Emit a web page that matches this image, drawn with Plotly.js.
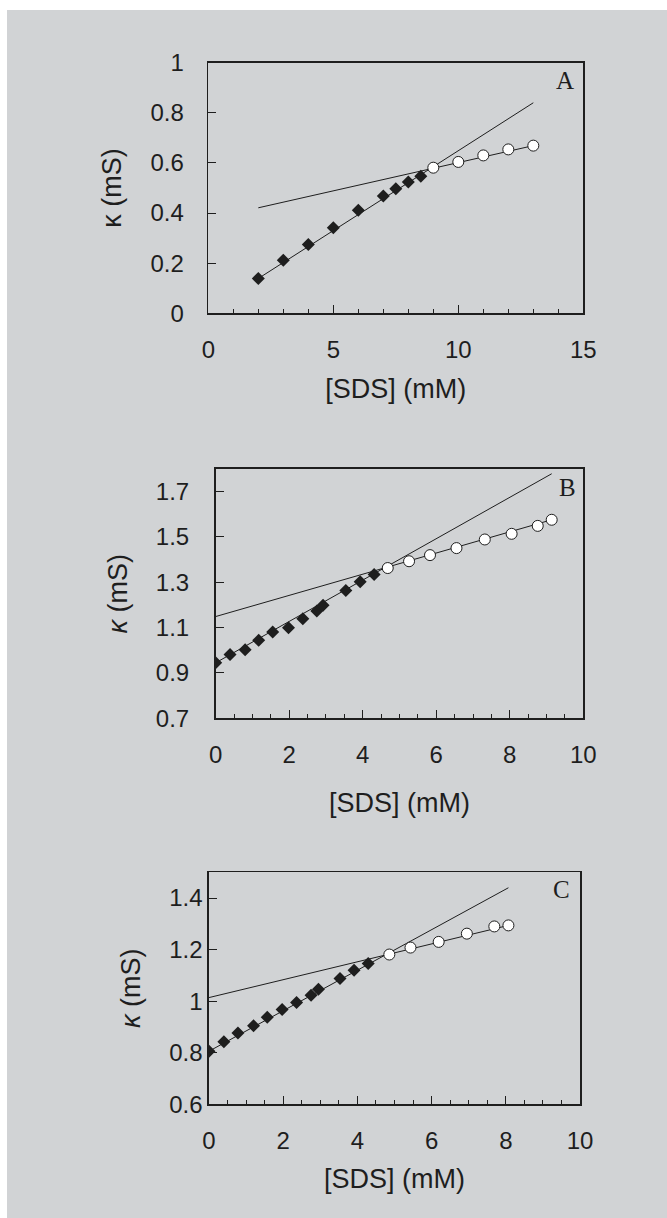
<!DOCTYPE html>
<html>
<head>
<meta charset="utf-8">
<script src="https://cdn.plot.ly/plotly-3.0.1.min.js"></script>
<style>
html,body{margin:0;padding:0;background:#ffffff;}
#plot{position:absolute;left:7px;top:10px;width:660px;height:1208px;}
</style>
</head>
<body>
<div id="plot"></div>
<script>
// Panel A
const aPreX = [2, 3, 4, 5, 6, 7, 7.5, 8, 8.5];
const aPreY = [0.139, 0.212, 0.275, 0.341, 0.411, 0.468, 0.497, 0.524, 0.547];
const aPostX = [9, 10, 11, 12, 13];
const aPostY = [0.581, 0.604, 0.630, 0.654, 0.669];
const aFitPreX = [2, 13];
const aFitPreY = [0.139, 0.840];
const aFitPostX = [2, 13];
const aFitPostY = [0.421, 0.669];

// Panel B
const bPreX = [0, 0.39, 0.80, 1.17, 1.55, 1.98, 2.37, 2.75, 2.92, 3.54, 3.93, 4.31];
const bPreY = [0.945, 0.981, 1.003, 1.044, 1.081, 1.100, 1.139, 1.173, 1.199, 1.264, 1.303, 1.334];
const bPostX = [4.68, 5.26, 5.83, 6.55, 7.32, 8.05, 8.76, 9.14];
const bPostY = [1.363, 1.393, 1.420, 1.451, 1.489, 1.514, 1.549, 1.576];
const bFitPreX = [0, 9.14];
const bFitPreY = [0.945, 1.779];
const bFitPostX = [0, 9.14];
const bFitPostY = [1.149, 1.576];

// Panel C
const cPreX = [0, 0.40, 0.78, 1.20, 1.57, 1.97, 2.36, 2.75, 2.95, 3.53, 3.91, 4.29];
const cPreY = [0.806, 0.843, 0.877, 0.905, 0.938, 0.968, 0.995, 1.023, 1.046, 1.088, 1.120, 1.146];
const cPostX = [4.86, 5.43, 6.19, 6.95, 7.69, 8.07];
const cPostY = [1.181, 1.208, 1.230, 1.262, 1.290, 1.294];
const cFitPreX = [0, 8.07];
const cFitPreY = [0.806, 1.440];
const cFitPostX = [0, 8.07];
const cFitPostY = [1.014, 1.294];

const panelLetters = ['A', 'B', 'C'];
const xTitle = '[SDS] (mM)';
const yTitles = ['κ (mS)', '<i>κ</i> (mS)', '<i>κ</i> (mS)'];

const ink = '#1e1e1e';
const fontFam = 'Liberation Sans, Arial, sans-serif';
const serifFam = 'Liberation Serif, Times New Roman, serif';

function fitTrace(x, y, xa, ya) {
  return {x: x, y: y, xaxis: xa, yaxis: ya, mode: 'lines',
    line: {color: ink, width: 1}, showlegend: false, hoverinfo: 'skip'};
}
function preTrace(x, y, xa, ya) {
  return {x: x, y: y, xaxis: xa, yaxis: ya, mode: 'markers',
    marker: {symbol: 'diamond', size: 10, color: ink, line: {width: 0}}, showlegend: false};
}
function postTrace(x, y, xa, ya) {
  return {x: x, y: y, xaxis: xa, yaxis: ya, mode: 'markers',
    marker: {symbol: 'circle', size: 11, color: '#ffffff', line: {color: ink, width: 1}}, showlegend: false};
}

const traces = [
  fitTrace(aFitPreX, aFitPreY, 'x', 'y'), fitTrace(aFitPostX, aFitPostY, 'x', 'y'),
  preTrace(aPreX, aPreY, 'x', 'y'), postTrace(aPostX, aPostY, 'x', 'y'),
  fitTrace(bFitPreX, bFitPreY, 'x2', 'y2'), fitTrace(bFitPostX, bFitPostY, 'x2', 'y2'),
  preTrace(bPreX, bPreY, 'x2', 'y2'), postTrace(bPostX, bPostY, 'x2', 'y2'),
  fitTrace(cFitPreX, cFitPreY, 'x3', 'y3'), fitTrace(cFitPostX, cFitPostY, 'x3', 'y3'),
  preTrace(cPreX, cPreY, 'x3', 'y3'), postTrace(cPostX, cPostY, 'x3', 'y3')
];

function xAxis(domain, range, dtick, minorD, anchor, standoff) {
  return {domain: domain, range: range, anchor: anchor, dtick: dtick, tick0: 0,
    showline: true, mirror: true, linecolor: ink, linewidth: 1.7,
    ticks: 'inside', ticklen: 8, tickwidth: 1, tickcolor: ink,
    minor: {ticks: 'inside', ticklen: 4.5, dtick: minorD, tickwidth: 1, tickcolor: ink, showgrid: false},
    showgrid: false, zeroline: false, ticklabelstandoff: 14,
    tickfont: {family: fontFam, size: 24, color: ink},
    title: {text: xTitle, font: {family: fontFam, size: 27, color: ink}, standoff: standoff},
    fixedrange: true};
}
function yAxis(domain, range, tick0, anchor, titleText, labStand, standoff) {
  return {domain: domain, range: range, anchor: anchor, dtick: 0.2, tick0: tick0,
    showline: true, mirror: true, linecolor: ink, linewidth: 1.7,
    ticks: 'inside', ticklen: 8, tickwidth: 1, tickcolor: ink,
    showgrid: false, zeroline: false, ticklabelstandoff: labStand,
    tickfont: {family: fontFam, size: 24, color: ink},
    title: {text: titleText, font: {family: fontFam, size: 27, color: ink}, standoff: standoff},
    fixedrange: true};
}

function letter(txt, xr, yr, x, y) {
  return {text: txt, xref: xr, yref: yr, x: x, y: y, xanchor: 'center', yanchor: 'middle',
    showarrow: false, font: {family: serifFam, size: 25, color: ink}};
}

const layout = {
  width: 660, height: 1208,
  margin: {l: 0, r: 0, t: 0, b: 0},
  paper_bgcolor: '#d1d3d5',
  plot_bgcolor: 'rgba(0,0,0,0)',
  showlegend: false,
  xaxis: xAxis([0.305, 0.8732], [0, 15], 5, 1, 'y', 17.5),
  yaxis: yAxis([0.7489, 0.9564], [0, 1], 0, 'x', yTitles[0], 18, 21),
  xaxis2: xAxis([0.3162, 0.8732], [0, 10], 2, 0.5, 'y2', 26),
  yaxis2: yAxis([0.41366, 0.62003], [0.7, 1.8], 0.7, 'x2', yTitles[1], 20, 20),
  xaxis3: xAxis([0.3061, 0.8682], [0, 10], 2, 0.5, 'y3', 16.5),
  yaxis3: yAxis([0.09412, 0.28618], [0.6, 1.5], 0.6, 'x3', yTitles[2], 19.5, 21),
  annotations: [
    letter(panelLetters[0], 'x domain', 'y domain', 0.951, 0.927),
    letter(panelLetters[1], 'x2 domain', 'y2 domain', 0.956, 0.924),
    letter(panelLetters[2], 'x3 domain', 'y3 domain', 0.949, 0.924)
  ]
};

Plotly.newPlot('plot', traces, layout, {staticPlot: true, displayModeBar: false});
</script>
</body>
</html>
